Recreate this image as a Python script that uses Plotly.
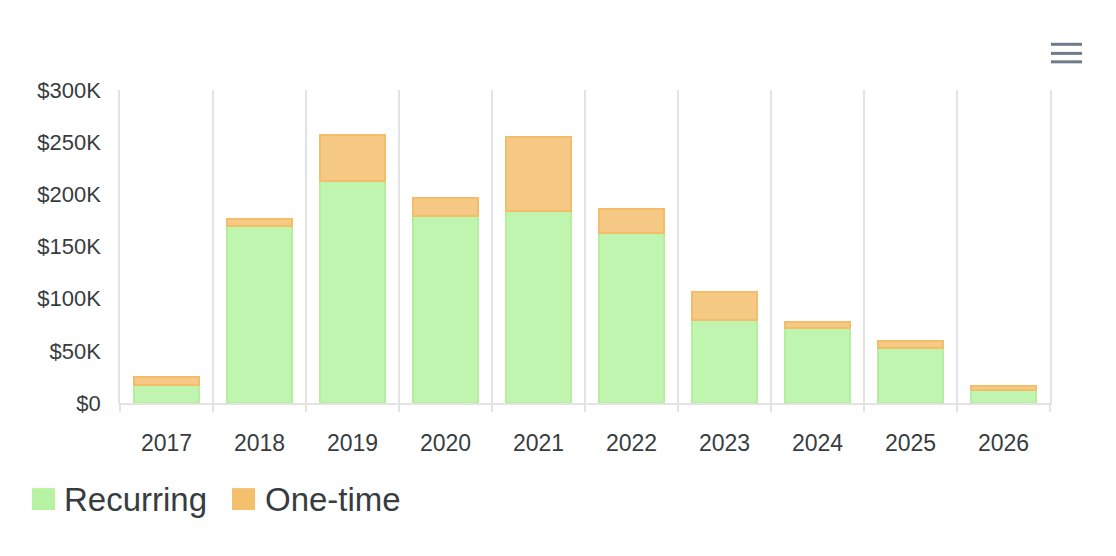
import plotly.graph_objects as go

years = ["2017", "2018", "2019", "2020", "2021", "2022", "2023", "2024", "2025", "2026"]
recurring = [17300, 170000, 212700, 179000, 183600, 163100, 80000, 72000, 53100, 12800]
one_time = [7400, 6000, 43800, 17400, 71600, 22400, 26200, 5400, 6400, 3800]

series_names = ["Recurring", "One-time"]
fill_colors = ["#c0f5b0", "#f6ca84"]
line_colors = ["#b4ee9e", "#f3bd6a"]
legend_colors = ["#b8f3a4", "#f4c06e"]

y_ticks = [0, 50000, 100000, 150000, 200000, 250000, 300000]
y_labels = ["$0", "$50K", "$100K", "$150K", "$200K", "$250K", "$300K"]

FONT = "Liberation Sans, Arial, sans-serif"
TEXT = "#373d3f"
GRID = "#e3e3e3"

fig = go.Figure()
for name, vals, fc, lc in zip(series_names, [recurring, one_time], fill_colors, line_colors):
    fig.add_trace(go.Bar(
        x=years, y=vals, name=name,
        marker=dict(color=fc, line=dict(color=lc, width=2)),
        showlegend=False,
    ))

# page body has an 8px margin, so the figure is a bit smaller than the window
fig.update_layout(
    width=1100, height=540,
    barmode="stack", bargap=0.3,
    margin=dict(l=112, r=58, t=82, b=145),
    plot_bgcolor="white", paper_bgcolor="white",
    font=dict(family=FONT, color=TEXT),
    xaxis=dict(
        type="category", tickson="boundaries",
        showgrid=True, gridcolor=GRID, gridwidth=1.5,
        ticks="outside", ticklen=7, tickcolor=GRID, tickwidth=1.5,
        showline=True, linecolor=GRID, linewidth=1.5,
        tickfont=dict(size=23, color=TEXT), ticklabelstandoff=19,
    ),
    yaxis=dict(
        range=[0, 300000], showgrid=False, zeroline=False,
        showline=True, mirror=True, linecolor=GRID, linewidth=1.5,
        tickvals=y_ticks, ticktext=y_labels,
        tickfont=dict(size=22, color=TEXT), ticklabelstandoff=13,
    ),
)

# legend drawn as squares + text below the plot
leg_boxes = [(-0.0946, -0.0699, -0.0624), (0.1204, 0.1452, 0.1538)]
for (x0, x1, tx), name, fc in zip(leg_boxes, series_names, legend_colors):
    fig.add_shape(type="rect", xref="paper", yref="paper",
                  x0=x0, x1=x1, y0=-0.342, y1=-0.272,
                  fillcolor=fc, line=dict(width=0))
    fig.add_annotation(x=tx, y=-0.307, xref="paper", yref="paper",
                       text=name, showarrow=False, xanchor="left", yanchor="middle",
                       font=dict(size=33, color=TEXT))

# menu icon (top right)
for yy in [1.146, 1.117, 1.090]:
    fig.add_shape(type="line", xref="paper", yref="paper",
                  x0=1.001, x1=1.0344, y0=yy, y1=yy,
                  line=dict(color="#6e7b8b", width=3))

fig.write_html("out.html")
